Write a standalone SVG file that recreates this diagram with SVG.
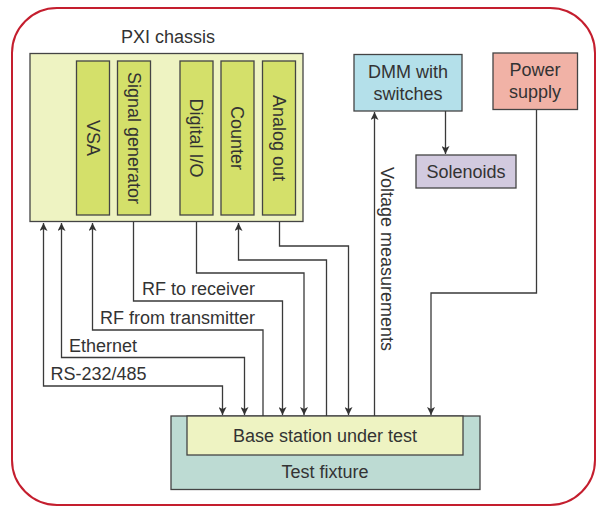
<svg xmlns="http://www.w3.org/2000/svg" width="597" height="506" viewBox="0 0 597 506">
<defs>
<marker id="ah" viewBox="0 0 10 10" refX="10" refY="5" markerWidth="8" markerHeight="8" markerUnits="userSpaceOnUse" orient="auto-start-reverse">
<path d="M0,0 L10,5 L0,10 L2.5,5 z" fill="#333"/>
</marker>
</defs>
<style>
text{font-family:"Liberation Sans",Arial,sans-serif;font-size:18px;fill:#333}
.box{stroke:#444;stroke-width:1.3}
.mod{fill:#d4e06a;stroke:#444;stroke-width:1.3}
.c{fill:none;stroke:#3a3a3a;stroke-width:1.3}
.m{text-anchor:middle}
</style>
<rect x="12" y="8" width="583" height="497" rx="45" ry="45" fill="#fff" stroke="#c41e2e" stroke-width="2"/>
<g id="pxi">
<text class="m" x="168" y="43">PXI chassis</text>
<rect class="box" x="30" y="53.5" width="273" height="168" fill="#eef3c2"/>
</g>
<g id="vsa"><rect class="mod" x="76.5" y="61" width="33" height="154"/><text class="m" transform="translate(93,138) rotate(90)" dy="6.5">VSA</text></g>
<g id="siggen"><rect class="mod" x="117.5" y="61" width="33" height="154"/><text class="m" transform="translate(134,138) rotate(90)" dy="6.5">Signal generator</text></g>
<g id="dio"><rect class="mod" x="180" y="61" width="33" height="154"/><text class="m" transform="translate(196.5,138) rotate(90)" dy="6.5">Digital I/O</text></g>
<g id="counter"><rect class="mod" x="221" y="61" width="33" height="154"/><text class="m" transform="translate(237.5,138) rotate(90)" dy="6.5">Counter</text></g>
<g id="aout"><rect class="mod" x="262.5" y="61" width="33" height="154"/><text class="m" transform="translate(279,138) rotate(90)" dy="6.5">Analog out</text></g>
<g id="dmm"><rect class="box" x="354" y="54.5" width="108" height="56.5" fill="#b4e0ea"/><text class="m" x="408" y="78">DMM with</text><text class="m" x="408" y="100">switches</text></g>
<g id="power"><rect class="box" x="493" y="53" width="84.5" height="56.5" fill="#f1b2a6"/><text class="m" x="535" y="76">Power</text><text class="m" x="535" y="98">supply</text></g>
<g id="solenoids"><rect class="box" x="416" y="155" width="100" height="33" fill="#d2cadf"/><text class="m" x="466" y="177.5">Solenoids</text></g>
<g id="fixture"><rect class="box" x="171" y="416" width="309" height="73.5" fill="#bddbd3"/><text class="m" x="325" y="478">Test fixture</text></g>
<g id="bs"><rect class="box" x="187" y="416" width="276" height="39" fill="#eef3c2"/><text class="m" x="325" y="442">Base station under test</text></g>
<g id="connectors">
<path class="c" d="M43.5,223 V386 H222.5 V415" marker-start="url(#ah)" marker-end="url(#ah)"/>
<path class="c" d="M61.5,223 V357.5 H244.5 V415" marker-start="url(#ah)" marker-end="url(#ah)"/>
<path class="c" d="M92.5,223 V330 H263 V416" marker-start="url(#ah)"/>
<path class="c" d="M133.5,222 V301 H282.5 V415" marker-end="url(#ah)"/>
<path class="c" d="M196.5,222 V273 H304 V415" marker-end="url(#ah)"/>
<path class="c" d="M238.5,223 V260 H326.5 V416" marker-start="url(#ah)"/>
<path class="c" d="M279.5,222 V246 H348.5 V415" marker-end="url(#ah)"/>
<path class="c" d="M374.5,416 V112" marker-end="url(#ah)"/>
<path class="c" d="M445.5,111 V154" marker-end="url(#ah)"/>
<path class="c" d="M536.5,110 V293 H431 V415" marker-end="url(#ah)"/>
<text x="142" y="295">RF to receiver</text>
<text x="100" y="324">RF from transmitter</text>
<text x="69" y="352">Ethernet</text>
<text x="50.5" y="379.5">RS-232/485</text>
<text class="m" transform="translate(381,259) rotate(90)">Voltage measurements</text>
</g>
</svg>
